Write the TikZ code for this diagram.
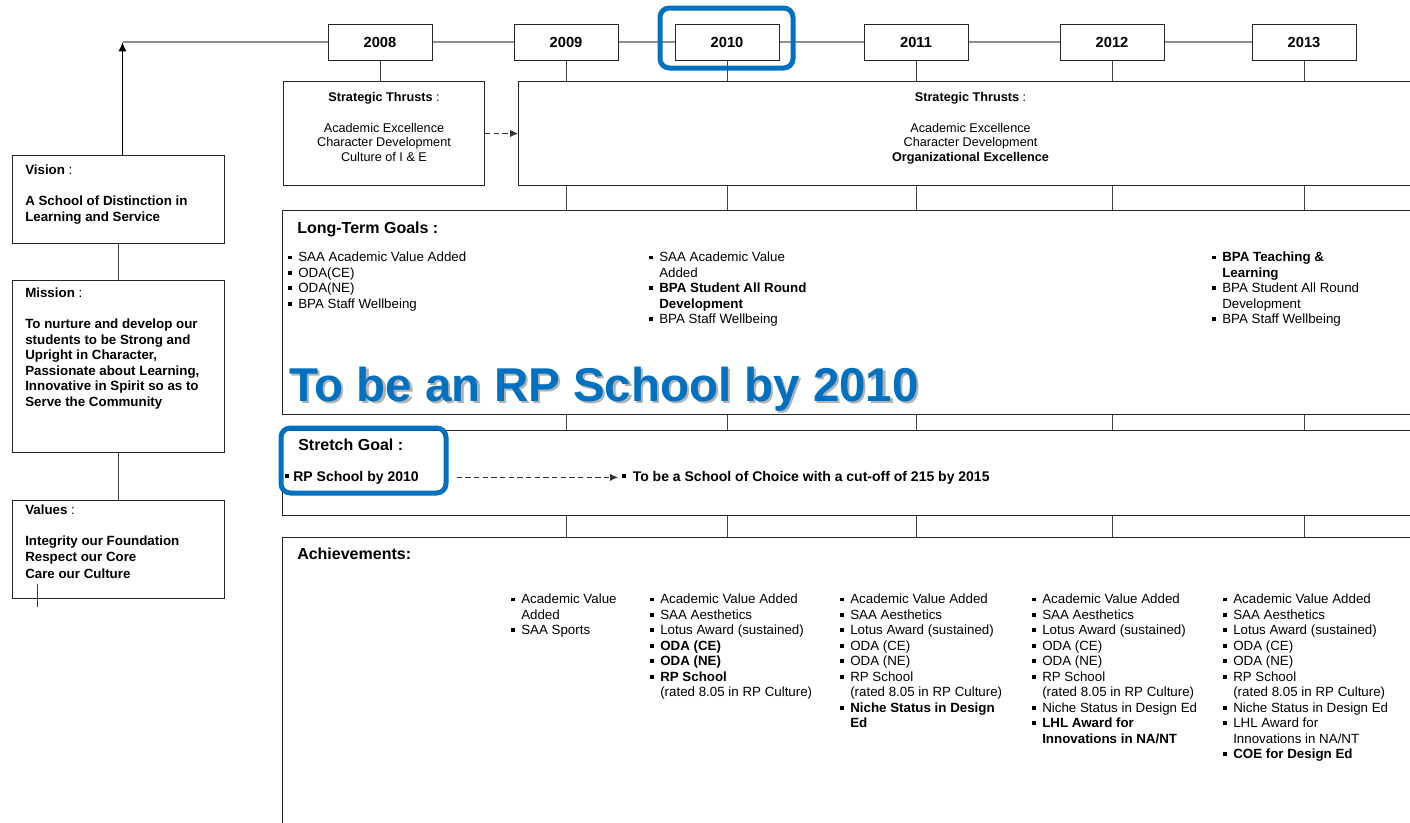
\documentclass[tikz,border=0pt]{standalone}
\usepackage{fontspec}
\setmainfont{Liberation Sans}
\usepackage{tikz}
\usetikzlibrary{arrows.meta}
\definecolor{rpblue}{RGB}{0,112,192}
\definecolor{linegray}{rgb}{0.56, 0.56, 0.56}
\newcommand{\bul}{\makebox[0.75em][l]{\rule[0.2em]{0.28em}{0.28em}}}
\newcommand{\sbul}{\rule[0.2em]{0.28em}{0.28em}\hspace{0.3em}}
\newcommand{\ind}{\hspace*{0.75em}}
\newcommand{\shadowed}[1]{\makebox[0pt][l]{\hspace{1.6pt}\raisebox{-2.2pt}{\color{black!30}#1}}#1}

\begin{document}
\begin{tikzpicture}[x=0.75pt, y=-0.75pt,
    yearbox/.style={draw=black!85, line width=0.75pt, fill=white, minimum width=78pt, minimum height=27pt, inner sep=0pt, font=\fontsize{11}{13}\selectfont\bfseries},
    panel/.style={draw=black!85, line width=0.75pt, inner sep=0pt, anchor=north west},
    hilite/.style={draw=rpblue, line width=3.75pt, rounded corners=7pt, inner sep=0pt},
    tline/.style={draw=linegray, line width=1.6pt},
    tick/.style={draw=black!75, line width=0.75pt},
    dasharrow/.style={draw=black!80, line width=0.75pt, dash pattern=on 4pt off 2.5pt, -{Latex[length=6pt, width=5.5pt]}},
    body/.style={font=\fontsize{10}{11.6}\selectfont, align=left, anchor=north west, inner sep=0pt},
    leftbody/.style={font=\fontsize{10}{11.6}\selectfont, align=left, anchor=north west, inner sep=0pt},
    stbody/.style={font=\fontsize{9.5}{10.9}\selectfont, align=center, anchor=north, inner sep=0pt},
    heading/.style={font=\fontsize{12}{14}\selectfont\bfseries, anchor=north west, inner sep=0pt},
    title/.style={font=\fontsize{35.6}{40}\selectfont\bfseries, anchor=base west, inner sep=0pt}]

    \useasboundingbox (0,0) rectangle (1410,822);
    \fill[white] (0,0) rectangle (1410,822);
    \clip (0,0) rectangle (1410,822);

    % left column
    \node[panel, minimum width=159pt, minimum height=66pt] (vision) at (12,155) {};
    \node[panel, minimum width=159pt, minimum height=129pt] (mission) at (12,280) {};
    \node[panel, minimum width=159pt, minimum height=73.5pt] (values) at (12,500) {};

    \node[leftbody] (visiontxt) at ([shift={(13,10)}]vision.north west)
        {\textbf{Vision} :\\[11.6pt] \textbf{A School of Distinction in}\\ \textbf{Learning and Service}};
    \node[leftbody] (missiontxt) at ([shift={(13,8)}]mission.north west)
        {\textbf{Mission} :\\[11.6pt] \textbf{To nurture and develop our}\\ \textbf{students to be Strong and}\\
         \textbf{Upright in Character,}\\ \textbf{Passionate about Learning,}\\ \textbf{Innovative in Spirit so as to}\\
         \textbf{Serve the Community}};
    \node[leftbody] (valuestxt) at ([shift={(13,5)}]values.north west)
        {\textbf{Values} :\\[11.6pt] \textbf{Integrity our Foundation}\\ \textbf{Respect our Core}\\[1.5pt] \textbf{Care our Culture}};

    \draw[tick] (vision) -- (mission);
    \draw[tick] (mission) -- (values);
    \draw[tick] ([shift={(25,-15)}]values.south west) -- ++(0,23);

    % time line
    \foreach \yr/\x in {2008/380, 2009/566, 2010/727, 2011/916, 2012/1112, 2013/1304}
        \node[yearbox] (y\yr) at (\x,42) {\yr};
    \coordinate (corner) at ([xshift=3]vision.north |- y2008);
    \draw[tline] (corner) -- (y2008);
    \foreach \a/\b in {2008/2009, 2009/2010, 2010/2011, 2011/2012, 2012/2013}
        \draw[tline] (y\a) -- (y\b);
    \draw[line width=0.9pt, -{Latex[length=7pt, width=6pt]}] (corner |- vision.north) -- (corner);
    \node[hilite, minimum width=99.75pt, minimum height=45pt] (hl2010) at (726.5,38) {};

    % strategic thrusts
    \node[panel, minimum width=150.75pt, minimum height=78pt] (st08) at (283,81) {};
    \node[panel, minimum width=678pt, minimum height=78pt] (stbig) at (518,81) {};
    \node[stbody] (st08txt) at ([yshift=-8.5pt]st08.north)
        {\textbf{Strategic Thrusts} :\\[12pt] Academic Excellence\\ Character Development\\ Culture of I \& E};
    \node[stbody] (stbigtxt) at ([yshift=-8.5pt]stbig.north)
        {\textbf{Strategic Thrusts} :\\[12pt] Academic Excellence\\ Character Development\\ \textbf{Organizational Excellence}};
    \draw[tick] (y2008.south) -- (y2008.south |- st08.north);
    \draw[dasharrow] (st08.east) -- (stbig.west);

    % goals and achievements
    \node[panel, minimum width=855pt, minimum height=153pt] (ltg) at (282,210) {};
    \node[panel, minimum width=855pt, minimum height=63.75pt] (stretch) at (282,430) {};
    \node[panel, minimum width=855pt, minimum height=220pt] (ach) at (282,537) {};

    \foreach \yr in {2009,...,2013} {
        \draw[tick] (y\yr.south) -- (y\yr.south |- stbig.north);
        \draw[tick] (y\yr |- stbig.south) -- (y\yr |- ltg.north);
        \draw[tick] (y\yr |- ltg.south) -- (y\yr |- stretch.north);
        \draw[tick] (y\yr |- stretch.south) -- (y\yr |- ach.north);
    }

    \node[heading] (ltghead) at ([shift={(15,12)}]ltg.north west) {Long-Term Goals :};
    \node[body] (ltg1) at (288,252)
        {\bul SAA Academic Value Added\\ \bul ODA(CE)\\ \bul ODA(NE)\\ \bul BPA Staff Wellbeing};
    \node[body] (ltg2) at (649,252)
        {\bul SAA Academic Value\\ \ind Added\\ \bul\textbf{BPA Student All Round}\\ \ind\textbf{Development}\\ \bul BPA Staff Wellbeing};
    \node[body] (ltg3) at (1212,252)
        {\bul\textbf{BPA Teaching \&}\\ \ind\textbf{Learning}\\ \bul BPA Student All Round\\ \ind Development\\ \bul BPA Staff Wellbeing};

    \node[title, text=rpblue] (rptitle) at (289,401) {\shadowed{To be an RP School by 2010}};

    \node[heading] (sghead) at ([shift={(16,9)}]stretch.north west) {Stretch Goal :};
    \node[font=\fontsize{10.5}{12}\selectfont\bfseries, anchor=base west, inner sep=0pt] (sg1) at (285,481) {\sbul RP School by 2010};
    \node[hilite, minimum width=123.75pt, minimum height=48.75pt] (sghl) at (363.5,460.5) {};
    \node[font=\fontsize{10.5}{12}\selectfont\bfseries, anchor=base west, inner sep=0pt] (choice) at (622,481)
        {\bul To be a School of Choice with a cut-off of 215 by 2015};
    \draw[dasharrow, shorten <=6pt, shorten >=3pt] (sghl.east |- choice.west) -- (choice.west);

    \node[heading] (achhead) at ([shift={(15,11)}]ach.north west) {Achievements:};
    \node[body] (ach1) at (511,594)
        {\bul Academic Value\\ \ind Added\\ \bul SAA Sports};
    \node[body] (ach2) at (650,594)
        {\bul Academic Value Added\\ \bul SAA Aesthetics\\ \bul Lotus Award (sustained)\\ \bul\textbf{ODA (CE)}\\
         \bul\textbf{ODA (NE)}\\ \bul\textbf{RP School}\\ \ind(rated 8.05 in RP Culture)};
    \node[body] (ach3) at (840,594)
        {\bul Academic Value Added\\ \bul SAA Aesthetics\\ \bul Lotus Award (sustained)\\ \bul ODA (CE)\\
         \bul ODA (NE)\\ \bul RP School\\ \ind(rated 8.05 in RP Culture)\\ \bul\textbf{Niche Status in Design}\\ \ind\textbf{Ed}};
    \node[body] (ach4) at (1032,594)
        {\bul Academic Value Added\\ \bul SAA Aesthetics\\ \bul Lotus Award (sustained)\\ \bul ODA (CE)\\
         \bul ODA (NE)\\ \bul RP School\\ \ind(rated 8.05 in RP Culture)\\ \bul Niche Status in Design Ed\\
         \bul\textbf{LHL Award for}\\ \ind\textbf{Innovations in NA/NT}};
    \node[body] (ach5) at (1223,594)
        {\bul Academic Value Added\\ \bul SAA Aesthetics\\ \bul Lotus Award (sustained)\\ \bul ODA (CE)\\
         \bul ODA (NE)\\ \bul RP School\\ \ind(rated 8.05 in RP Culture)\\ \bul Niche Status in Design Ed\\
         \bul LHL Award for\\ \ind Innovations in NA/NT\\ \bul\textbf{COE for Design Ed}};
\end{tikzpicture}
\end{document}
